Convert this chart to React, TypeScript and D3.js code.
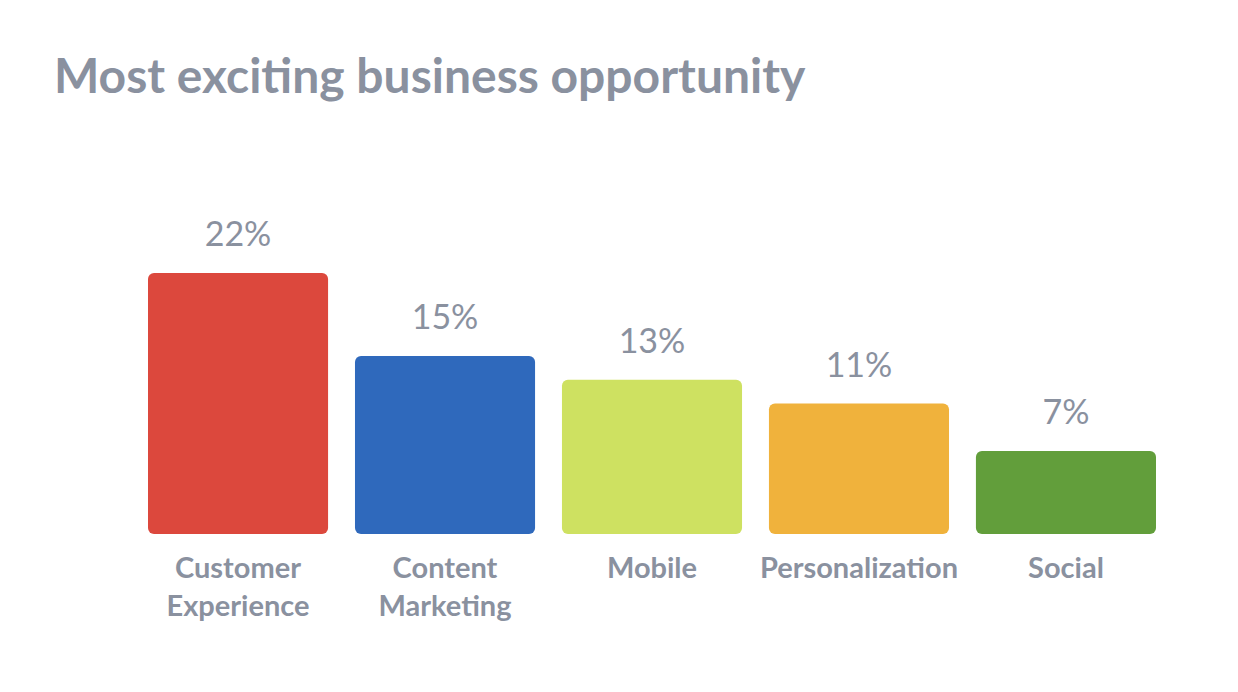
import { useEffect, useRef } from "react";
import * as d3 from "d3";

const categories = ["Customer Experience", "Content Marketing", "Mobile", "Personalization", "Social"];
const labelLines = [["Customer", "Experience"], ["Content", "Marketing"], ["Mobile"], ["Personalization"], ["Social"]];
const values = [22, 15, 13, 11, 7];
const colors = ["#DC483D", "#2F69BC", "#CEE161", "#F0B23C", "#629E3B"];

const TEXT = "#8A919F";
const FONT = "Lato, 'Open Sans', sans-serif";

export default function App() {
  const ref = useRef<SVGSVGElement>(null);

  useEffect(() => {
    if (!ref.current) return;
    const width = 1238;
    const height = 692;
    const svg = d3.select(ref.current);
    svg.selectAll("*").remove();
    svg.attr("width", width).attr("height", height).attr("viewBox", `0 0 ${width} ${height}`);

    svg.append("rect").attr("width", width).attr("height", height).attr("fill", "#fff");

    svg
      .append("text")
      .attr("x", 54)
      .attr("y", 93)
      .attr("fill", TEXT)
      .attr("font-family", FONT)
      .attr("font-weight", 700)
      .attr("font-size", 48)
      .text("Most exciting business opportunity");

    const x = d3.scaleBand<string>().domain(categories).range([148, 1156]).paddingInner(0.13);
    const y = d3.scaleLinear().domain([0, 22]).range([534, 273]);

    const g = svg.append("g");
    const bars = g
      .selectAll("g.bar")
      .data(categories)
      .join("g")
      .attr("class", "bar");

    bars
      .append("rect")
      .attr("x", (d) => x(d)!)
      .attr("y", (_, i) => y(values[i]))
      .attr("width", x.bandwidth())
      .attr("height", (_, i) => y(0) - y(values[i]))
      .attr("rx", 6)
      .attr("fill", (_, i) => colors[i]);

    bars
      .append("text")
      .attr("x", (d) => x(d)! + x.bandwidth() / 2)
      .attr("y", (_, i) => y(values[i]) - 27)
      .attr("text-anchor", "middle")
      .attr("fill", TEXT)
      .attr("font-family", FONT)
      .attr("font-weight", 400)
      .attr("font-size", 34)
      .text((_, i) => `${values[i]}%`);

    bars.each(function (d, i) {
      const t = d3
        .select(this)
        .append("text")
        .attr("text-anchor", "middle")
        .attr("fill", TEXT)
        .attr("font-family", FONT)
        .attr("font-weight", 700)
        .attr("font-size", 29);
      labelLines[i].forEach((line, j) => {
        t.append("tspan")
          .attr("x", x(d)! + x.bandwidth() / 2)
          .attr("y", 578 + j * 38)
          .text(line);
      });
    });
  }, []);

  return <svg ref={ref} style={{ display: "block", position: "absolute", left: 0, top: 0 }} />;
}
